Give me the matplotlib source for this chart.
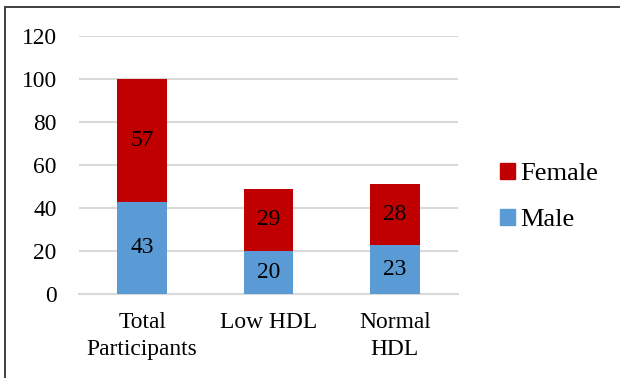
import matplotlib.pyplot as plt
from matplotlib.patches import Rectangle
from matplotlib.lines import Line2D

categories = ["Total\nParticipants", "Low HDL", "Normal\nHDL"]
male = [43, 20, 23]
female = [57, 29, 28]
yticks = [0, 20, 40, 60, 80, 100, 120]

plt.rcParams['font.family'] = ['Liberation Serif', 'DejaVu Serif']

W, H = 620, 378
FS = 16.9
LFS = 19
fig = plt.figure(figsize=(W / 100, H / 100), dpi=100)
ax = fig.add_axes([79 / W, 1 - 294 / H, (458 - 79) / W, (294 - 36) / H])

red = '#C00000'
blue = '#5B9BD5'
x = range(len(categories))
bw = 0.395
ax.bar(x, male, width=bw, color=blue, zorder=3, label='Male')
ax.bar(x, female, width=bw, bottom=male, color=red, zorder=3, label='Female')

for i in x:
    ax.text(i, male[i] / 2, str(male[i]), ha='center', va='center', fontsize=FS, zorder=4)
    ax.text(i, male[i] + female[i] / 2, str(female[i]), ha='center', va='center', fontsize=FS, zorder=4)

ax.set_xlim(-0.5, 2.5)
ax.set_ylim(0, 120)
ax.set_yticks(yticks)
ax.set_yticklabels([str(v) for v in yticks], fontsize=FS)
ax.set_xticks(list(x))
ax.set_xticklabels(categories, fontsize=FS, linespacing=1.4)
ax.tick_params(axis='both', length=0)
ax.tick_params(axis='y', pad=16)
ax.tick_params(axis='x', pad=13)
ax.grid(axis='y', color='#D9D9D9', linewidth=1.5, zorder=0)
for s in ['top', 'right', 'left']:
    ax.spines[s].set_visible(False)
ax.spines['bottom'].set_color('#D9D9D9')
ax.spines['bottom'].set_linewidth(1.5)

handles = [Rectangle((0, 0), 1, 1, color=red), Rectangle((0, 0), 1, 1, color=blue)]
fig.legend(handles, ['Female', 'Male'], loc='center left',
           bbox_to_anchor=(500 / W, 1 - 197 / H), frameon=False, fontsize=LFS,
           handlelength=0.55, handleheight=0.55, handletextpad=0.2, labelspacing=0.88,
           borderaxespad=0, borderpad=0)

# outer frame edges (top and left)
fig.add_artist(Line2D([4.5 / W, 1], [1 - 6.5 / H, 1 - 6.5 / H], transform=fig.transFigure,
                      color='#404040', linewidth=1.4))
fig.add_artist(Line2D([4.5 / W, 4.5 / W], [0, 1 - 6.5 / H], transform=fig.transFigure,
                      color='#404040', linewidth=1.4))

fig.savefig('out.png', dpi=100)
